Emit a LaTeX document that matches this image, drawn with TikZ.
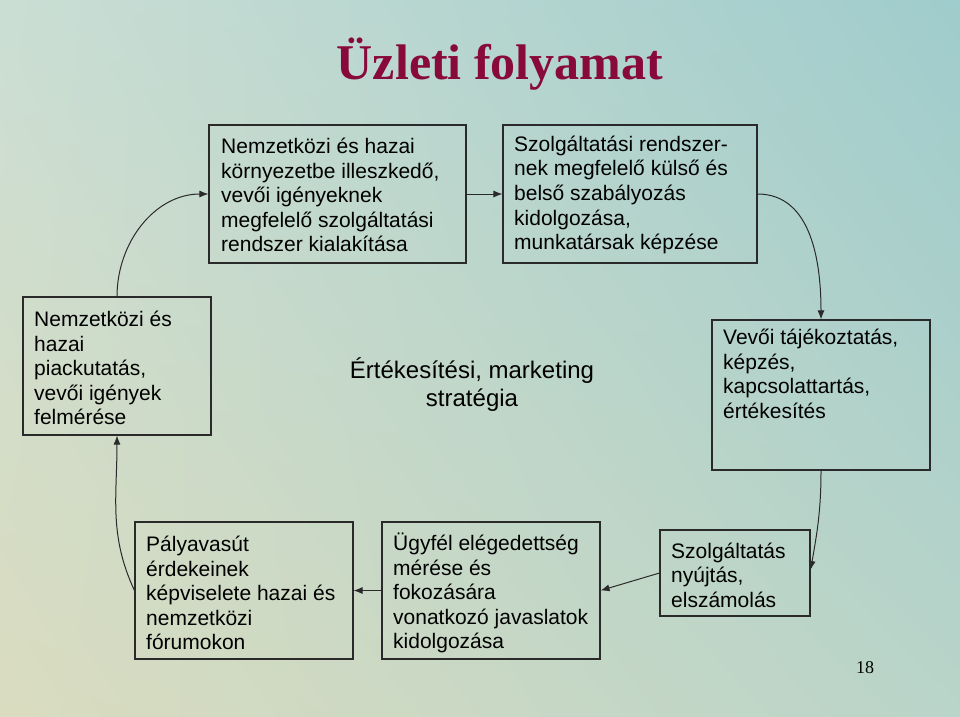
\documentclass[tikz,border=0pt]{standalone}
\usepackage{fontspec}
\setmainfont{Liberation Sans}
\newfontfamily\titleserif{Liberation Serif}
\usetikzlibrary{arrows.meta,shadings}
\definecolor{bgUL}{HTML}{CBDED4}
\definecolor{bgUR}{HTML}{9FCCCC}
\definecolor{bgLL}{HTML}{DADCBF}
\definecolor{bgLR}{HTML}{B9D4C9}
\definecolor{titlecol}{HTML}{870A3A}
\definecolor{linecol}{HTML}{2A2A2A}
\tikzset{
  box/.style={draw=linecol, line width=1.1pt, rectangle, inner sep=0pt},
  txt/.style={inner sep=0pt, align=left, text=black, font=\fontsize{21}{24.6}\selectfont},
  conn/.style={draw=linecol, line width=1pt, -{Latex[length=9pt,width=7pt]}}
}
\begin{document}
\begin{tikzpicture}[x=1pt,y=1pt]
\useasboundingbox (0,0) rectangle (960,-716);
\shade[upper left=bgUL, upper right=bgUR, lower left=bgLL, lower right=bgLR] (0,0) rectangle (960,-716);

% title
\node[anchor=base, text=titlecol, font=\titleserif\bfseries\fontsize{50}{56}\selectfont] (title) at (500,-79) {Üzleti folyamat};

% boxes
\node[box, minimum width=257, minimum height=138] (b1) at (337.5,-194) {};
\node[box, minimum width=254, minimum height=138] (b2) at (630,-194) {};
\node[box, minimum width=188, minimum height=138] (b3) at (117,-366) {};
\node[box, minimum width=218, minimum height=150] (b5) at (821,-395) {};
\node[box, minimum width=150, minimum height=86] (b6) at (735,-573) {};
\node[box, minimum width=218, minimum height=137] (b7) at (491,-590.5) {};
\node[box, minimum width=218, minimum height=137] (b8) at (244,-590.5) {};

% texts
\node[txt, anchor=west] (t1) at (221,-195) {Nemzetközi és hazai\\környezetbe illeszkedő,\\vevői igényeknek\\megfelelő szolgáltatási\\rendszer kialakítása};
\node[txt, anchor=west] (t2) at (514,-195) {Szolgáltatási rendszer-\\nek megfelelő külső és\\belső szabályozás\\kidolgozása,\\munkatársak képzése};
\node[txt, anchor=west] (t3) at (34,-368) {Nemzetközi és\\hazai\\piackutatás,\\vevői igények\\felmérése};
\node[txt, anchor=north west] (t5) at (723,-329) {Vevői tájékoztatás,\\képzés,\\kapcsolattartás,\\értékesítés};
\node[txt, anchor=west] (t6) at (671,-575) {Szolgáltatás\\nyújtás,\\elszámolás};
\node[txt, anchor=west] (t7) at (393,-593) {Ügyfél elégedettség\\mérése és\\fokozására\\vonatkozó javaslatok\\kidolgozása};
\node[txt, anchor=west] (t8) at (146,-593) {Pályavasút\\érdekeinek\\képviselete hazai és\\nemzetközi\\fórumokon};
\node[inner sep=0pt, align=center, font=\fontsize{24}{28}\selectfont] (center) at (472,-385) {Értékesítési, marketing\\stratégia};

% page number
\node[inner sep=0pt, font=\titleserif\fontsize{18}{20}\selectfont] (pg) at (865,-668) {18};

% connectors
\draw[conn] (b3.north) to[out=90,in=180] (b1.west);
\draw[conn] (b1.east) -- (b2.west);
\draw[conn] (b2.east) to[out=0,in=90] (b5.north);
\draw[conn] (b5.south) to[out=-90,in=80] ([yshift=3pt]b6.east);
\draw[conn] (b6.west) -- (b7.east);
\draw[conn] (b7.west) -- (b8.east);
\draw[conn] (b8.west) to[out=115,in=-90] (b3.south);
\end{tikzpicture}
\end{document}
